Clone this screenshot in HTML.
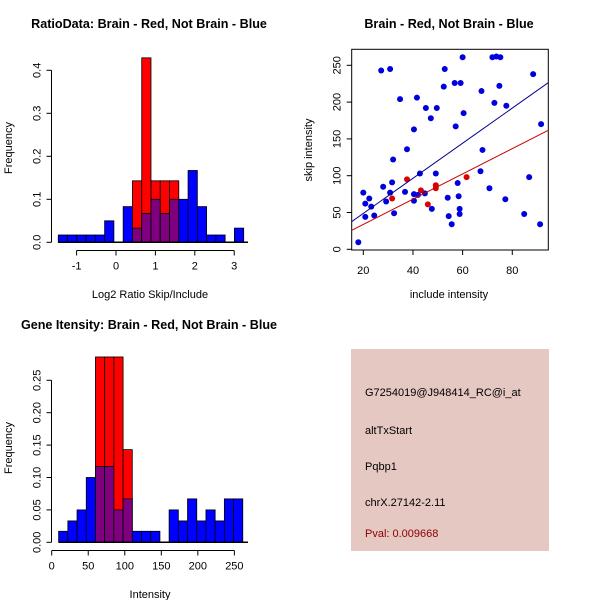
<!DOCTYPE html>
<html><head><meta charset="utf-8"><style>
body{margin:0;background:#fff}
svg{display:block;font-family:"Liberation Sans",sans-serif}
</style></head><body>
<svg id="s" width="600" height="600" viewBox="0 0 600 600"></svg>
<script>
// ---- Panel 1 data: ratio histogram ----
const ratioStart = -1.465, ratioWidth = 0.2353;
const ratioBlue = [0.017,0.017,0.017,0.017,0.017,0.05,0,0.083,0.033,0.067,0.1,0.067,0.1,0.1,0.167,0.083,0.017,0.017,0,0.033];
const ratioRed  = [0,0,0,0,0,0,0,0,0.143,0.429,0.143,0.143,0.143,0,0,0,0,0,0,0];
const ratioXTicks = [-1,0,1,2,3];
const ratioYTicks = [0,0.1,0.2,0.3,0.4];
// ---- Panel 2 data: scatter ----
const blueX = [18,20,20.8,20.8,22.4,23.2,24.4,27.2,28,29.2,30.8,30.8,31.6,32,32.4,34.8,36.8,37.6,40.4,40.4,40.4,41.6,42,42.8,44.8,45.2,47.2,47.6,49.2,49.6,52.4,52.8,54,54.4,55.6,56.8,57.2,58,58.4,58.8,58.8,59.2,60,60.4,67.2,67.6,68,70.8,72,72.8,73.6,75.2,74.8,77.2,77.6,84.8,86.8,88.4,91.2,91.6];
const blueY = [9.5,77,62,44,69,58,46,243,85,65,245,77,91,122,49,204,78,136,163,66,75,206,74,103,76,192,178,55,103,192,221,245,70,45,34,226,167,90,72,55,48,226,261,185,106,215,135,83,261,199,262,261,222,68,195,48,98,238,34,170];
const redX = [31.6,37.6,43.2,46,49.2,49.2,61.6];
const redY = [69,95,80,61,87,83,98];
const blueFit = [1.1, 2.384];
const redFit = [-0.5, 1.716];
const scXTicks = [20,40,60,80];
const scYTicks = [0,50,100,150,200,250];
// ---- Panel 3 data: intensity histogram ----
const intStart = 9.5, intWidth = 12.6;
const intBlue = [0.017,0.033,0.05,0.1,0.117,0.117,0.05,0.067,0.017,0.017,0.017,0,0.05,0.033,0.067,0.033,0.05,0.033,0.067,0.067];
const intRed  = [0,0,0,0,0.286,0.286,0.286,0.143,0,0,0,0,0,0,0,0,0,0,0,0];
const intXTicks = [0,50,100,150,200,250];
const intYTicks = [0,0.05,0.1,0.15,0.2,0.25];
const intYLabels = ["0.00","0.05","0.10","0.15","0.20","0.25"];

const S = document.getElementById('s');
const NS = 'http://www.w3.org/2000/svg';
function mk(tag, attrs, parent){const e=document.createElementNS(NS,tag);for(const k in attrs)e.setAttribute(k,attrs[k]);(parent||S).appendChild(e);return e;}
function txt(str,x,y,opts,parent){const t=mk('text',Object.assign({x:x,y:y,'font-size':11,'text-anchor':'middle',fill:'#000'},opts||{}),parent);t.textContent=str;return t;}

function histogram(name, g, start, width, blue, red, sx, sy){
  for(let i=0;i<blue.length;i++){
    const x0=sx(start+i*width), x1=sx(start+(i+1)*width);
    const b=blue[i], r=red[i];
    if(r>0){const e=mk('rect',{x:x0,y:sy(r),width:x1-x0,height:sy(0)-sy(r),fill:'#ff0000',stroke:'#000','stroke-width':0.8},g);
      
      }
    if(b>0){const fill=r>0?'#7f007f':'#0000ff';
      const e=mk('rect',{x:x0,y:sy(b),width:x1-x0,height:sy(0)-sy(b),fill:fill,stroke:'#000','stroke-width':0.8},g);
      
      }
  }
}
function yAxis(g,x,ticks,labels,sy){
  mk('line',{x1:x,x2:x,y1:sy(ticks[0]),y2:sy(ticks[ticks.length-1]),stroke:'#000'},g);
  ticks.forEach((v,i)=>{mk('line',{x1:x-5,x2:x,y1:sy(v),y2:sy(v),stroke:'#000'},g);
    txt(labels[i],x-15,sy(v)+4,{transform:'rotate(-90 '+(x-15)+' '+sy(v)+')'},g);});
}
function xAxis(g,y,ticks,sx){
  mk('line',{x1:sx(ticks[0]),x2:sx(ticks[ticks.length-1]),y1:y,y2:y,stroke:'#000'},g);
  ticks.forEach(v=>{mk('line',{x1:sx(v),x2:sx(v),y1:y,y2:y+5,stroke:'#000'},g);txt(String(v),sx(v),y+19,{},g);});
}

// Panel 1
{
  const g=mk('g',{});  
  const sx=v=>116+v*39.4, sy=v=>242.3-v*430;
  histogram('ratio',g,ratioStart,ratioWidth,ratioBlue,ratioRed,sx,sy);
  mk('line',{x1:sx(ratioStart),x2:248,y1:sy(0),y2:sy(0),stroke:'#000','stroke-width':1.5},g);
  yAxis(g,51.5,ratioYTicks,ratioYTicks.map(v=>v.toFixed(1)),sy);
  xAxis(g,250.5,ratioXTicks,sx);
  const t=txt('RatioData: Brain - Red, Not Brain - Blue',149,28,{'font-weight':'bold','font-size':12.6},g);
  txt('Log2 Ratio Skip/Include',150,298,{},g);
  txt('Frequency',12,148,{transform:'rotate(-90 12 148)'},g);
}
// Panel 2
{
  const g=mk('g',{});  
  const sx=v=>363.3+(v-20)*2.483, sy=v=>249.3-v*0.736;
  const cp=mk('clipPath',{id:'cp'},g); mk('rect',{x:351.7,y:49.3,width:196.6,height:200.7},cp);
  mk('rect',{x:351.7,y:49.3,width:196.6,height:200.7,fill:'none',stroke:'#000'},g);
  blueX.forEach((x,i)=>{const c=mk('circle',{cx:sx(x),cy:sy(blueY[i]),r:3,fill:'#0000dd'},g);
    });
  redX.forEach((x,i)=>{const c=mk('circle',{cx:sx(x),cy:sy(redY[i]),r:3,fill:'#dd0000'},g);
    });
  const xa=10,xb=100;
  const bl=mk('line',{x1:sx(xa),y1:sy(blueFit[0]+blueFit[1]*xa),x2:sx(xb),y2:sy(blueFit[0]+blueFit[1]*xb),stroke:'#00008b','clip-path':'url(#cp)'},g);
  
  const rl=mk('line',{x1:sx(xa),y1:sy(redFit[0]+redFit[1]*xa),x2:sx(xb),y2:sy(redFit[0]+redFit[1]*xb),stroke:'#cc0000','clip-path':'url(#cp)'},g);
  
  scYTicks.forEach(v=>{mk('line',{x1:346.7,x2:351.7,y1:sy(v),y2:sy(v),stroke:'#000'},g);
    txt(String(v),336.5,sy(v)+4,{transform:'rotate(-90 336.5 '+sy(v)+')'},g);});
  scXTicks.forEach(v=>{mk('line',{x1:sx(v),x2:sx(v),y1:250,y2:255,stroke:'#000'},g);txt(String(v),sx(v),274,{},g);});
  txt('Brain - Red, Not Brain - Blue',449,28,{'font-weight':'bold','font-size':12.6},g);
  txt('include intensity',449,298,{},g);
  txt('skip intensity',312,150,{transform:'rotate(-90 312 150)'},g);
}
// Panel 3
{
  const g=mk('g',{});  
  const sx=v=>51.7+v*0.7307, sy=v=>542.3-v*648;
  histogram('intensity',g,intStart,intWidth,intBlue,intRed,sx,sy);
  mk('line',{x1:sx(intStart),x2:248,y1:sy(0),y2:sy(0),stroke:'#000','stroke-width':1.5},g);
  yAxis(g,51.5,intYTicks,intYLabels,sy);
  xAxis(g,550.5,intXTicks,sx);
  txt('Gene Itensity: Brain - Red, Not Brain - Blue',149,329,{'font-weight':'bold','font-size':12.6},g);
  txt('Intensity',150,598,{},g);
  txt('Frequency',12,448,{transform:'rotate(-90 12 448)'},g);
}
// Panel 4 info box
{
  const g=mk('g',{});  
  mk('rect',{x:351,y:349,width:198,height:202,fill:'#e6c8c2'},g);
  const lines=[['G7254019@J948414_RC@i_at',396,'#000'],['altTxStart',434,'#000'],['Pqbp1',470,'#000'],['chrX.27142-2.11',506,'#000'],['Pval: 0.009668',537,'#8b0000']];
  lines.forEach(l=>txt(l[0],365,l[1],{'text-anchor':'start',fill:l[2]},g));
}
</script>
</body></html>
